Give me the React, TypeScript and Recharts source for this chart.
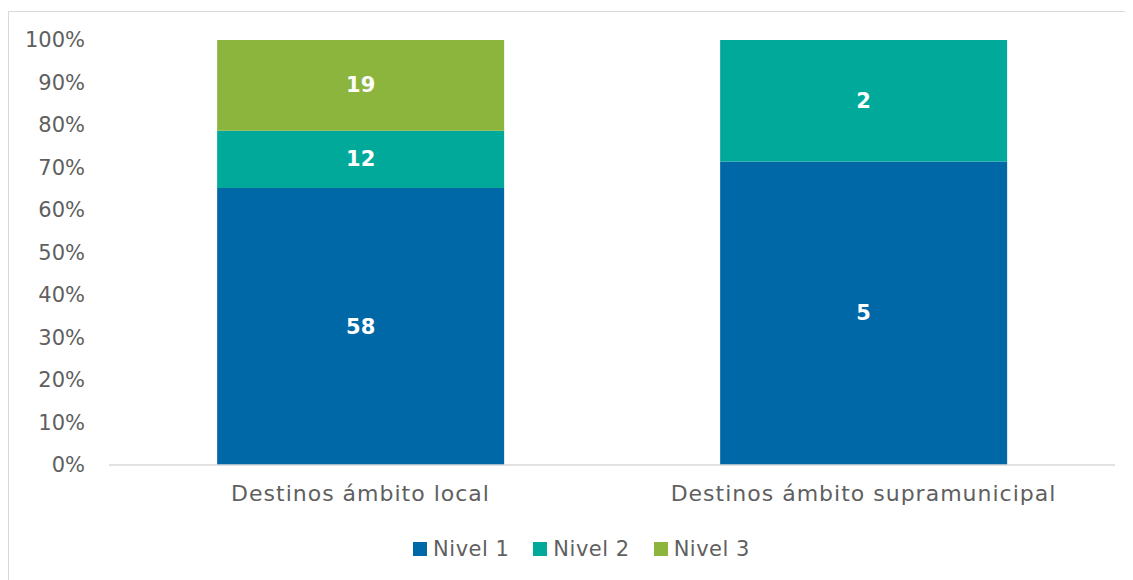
import React from "react";
import { BarChart, Bar, XAxis, YAxis, LabelList, Legend } from "recharts";

const categories = ["Destinos ámbito local", "Destinos ámbito supramunicipal"];
const seriesNames = ["Nivel 1", "Nivel 2", "Nivel 3"];
const nivel1 = [58, 5];
const nivel2 = [12, 2];
const nivel3 = [19, 0];
const colors = ["#0068A6", "#00A99A", "#8CB53E"];
const yTicks = [0, 0.1, 0.2, 0.3, 0.4, 0.5, 0.6, 0.7, 0.8, 0.9, 1];

const raw = [nivel1, nivel2, nivel3];
const data = categories.map((c, i) => {
  const total = nivel1[i] + nivel2[i] + nivel3[i];
  return {
    name: c,
    n1: nivel1[i] / total,
    n2: nivel2[i] / total,
    n3: nivel3[i] / total,
  };
});

const FONT = "'DejaVu Sans', sans-serif";
const TEXT = "#5f5f5f";

const makeLabel = (si: number) => (props: any) => {
  const { x, y, width, height, index } = props;
  const v = raw[si][index];
  if (!v) return null;
  return (
    <text
      x={x + width / 2}
      y={y + height / 2}
      textAnchor="middle"
      dominantBaseline="central"
      fill="#ffffff"
      fontFamily={FONT}
      fontWeight={700}
      fontSize={21}
    >
      {v}
    </text>
  );
};

const LegendContent = () => (
  <div style={{ display: "flex", justifyContent: "center", fontFamily: FONT, fontSize: 21, color: TEXT, letterSpacing: 0.5, paddingLeft: 22 }}>
    {seriesNames.map((n, i) => (
      <div key={n} style={{ display: "flex", alignItems: "center", marginRight: i < 2 ? 24 : 0 }}>
        <span style={{ display: "inline-block", width: 14, height: 14, background: colors[i], marginRight: 6 }} />
        <span>{n}</span>
      </div>
    ))}
  </div>
);

export default function App() {
  return (
    <div style={{ position: "relative", width: 1125, height: 572 }}>
      <div
        style={{
          position: "absolute",
          left: 0,
          top: 3,
          width: 1200,
          height: 700,
          border: "1px solid #d9d9d9",
          boxSizing: "border-box",
        }}
      />
      <div style={{ position: "absolute", left: 0, top: 0 }}>
        <BarChart
          width={1125}
          height={572}
          data={data}
          margin={{ top: 32, right: 18, left: 0, bottom: 41 }}
          barCategoryGap="21.5%"
        >
          <XAxis
            dataKey="name"
            axisLine={{ stroke: "#d9d9d9", strokeWidth: 1.5 }}
            tickLine={false}
            tick={{ fill: TEXT, fontSize: 22, fontFamily: FONT, letterSpacing: 1 }}
            tickMargin={14}
            height={50}
          />
          <YAxis
            domain={[0, 1]}
            ticks={yTicks}
            interval={0}
            axisLine={false}
            tickLine={false}
            width={101}
            tickMargin={18}
            tickFormatter={(v: number) => `${Math.round(v * 100)}%`}
            tick={{ fill: TEXT, fontSize: 21, fontFamily: FONT }}
          />
          <Legend
            verticalAlign="bottom"
            content={<LegendContent />}
            wrapperStyle={{ position: "absolute", top: 529, left: 0, width: 1125 }}
          />
          <Bar dataKey="n1" stackId="a" fill={colors[0]} name={seriesNames[0]} isAnimationActive={false}>
            <LabelList content={makeLabel(0)} />
          </Bar>
          <Bar dataKey="n2" stackId="a" fill={colors[1]} name={seriesNames[1]} isAnimationActive={false}>
            <LabelList content={makeLabel(1)} />
          </Bar>
          <Bar dataKey="n3" stackId="a" fill={colors[2]} name={seriesNames[2]} isAnimationActive={false}>
            <LabelList content={makeLabel(2)} />
          </Bar>
        </BarChart>
      </div>
    </div>
  );
}
